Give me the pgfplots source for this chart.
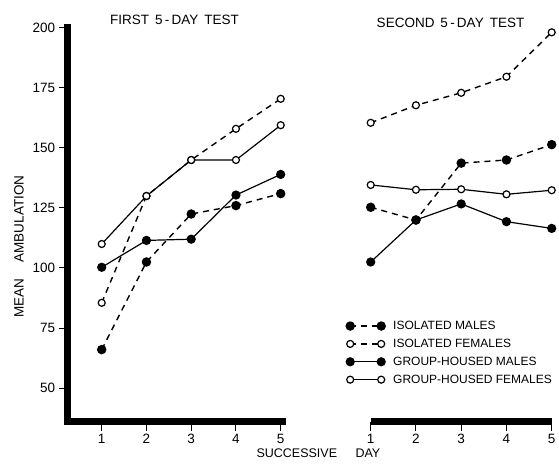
\documentclass[border=0pt]{standalone}
\usepackage{fontspec}
\setmainfont{Liberation Sans}
\usepackage{pgfplots}
\pgfplotsset{compat=1.18}
\newcommand{\lf}{\fontsize{13.5}{15}\selectfont}
\begin{document}
\begin{tikzpicture}[x=1pt,y=1pt]
\useasboundingbox (0,0) rectangle (559,463);
\pgfplotsset{
 myax/.style={scale only axis, height=393.6pt, ymin=36, ymax=200, clip=false,
   tick align=outside, major tick length=9pt,
   every tick/.style={black, line width=1pt},
   /pgf/number format/assume math mode=true,
   tick label style={font=\lf},
   xtick={1,2,3,4,5}},
 im/.style={black, line width=1.4pt, dash pattern=on 6pt off 5pt, mark=*, mark size=4pt, mark options={solid, fill=black}},
 ifm/.style={black, line width=1.4pt, dash pattern=on 6pt off 5pt, mark=*, mark size=3.5pt, mark options={solid, fill=white, line width=1.2pt}},
 gm/.style={black, line width=1.2pt, mark=*, mark size=4pt, mark options={fill=black}},
 gf/.style={black, line width=1.2pt, mark=*, mark size=3.5pt, mark options={fill=white, line width=1.2pt}},
}
\begin{axis}[myax, at={(67.7pt,41.4pt)}, anchor=south west, width=214.8pt,
  xmin=0.24, xmax=5.04, axis x line*=bottom, axis y line*=left,
  axis line style={line width=7pt, line cap=rect, -},
  ytick={50,75,100,125,150,175,200}]
\addplot[im] coordinates {(1,66)(2,102.5)(3,122.5)(4,126)(5,131)};
\addplot[gm] coordinates {(1,100.3)(2,111.5)(3,112)(4,130.4)(5,139)};
\addplot[ifm] coordinates {(1,85.5)(2,130)(3,145)(4,158)(5,170.5)};
\addplot[gf] coordinates {(1,110)(2,130)(3,145)(4,145)(5,159.5)};
\end{axis}
\begin{axis}[myax, at={(370.7pt,41.4pt)}, anchor=south west, width=181pt,
  xmin=1, xmax=5, axis x line*=bottom, axis y line=none,
  axis line style={line width=7pt, line cap=butt, -},
  ytick=\empty,
  legend style={at={(-0.153,0.266)}, anchor=north west, draw=none, fill=none,
    font=\fontsize{12}{14}\selectfont, row sep=4pt,
    /tikz/every odd column/.append style={column sep=6pt}},
  legend cell align=left,
  legend image code/.code={\draw[#1] plot coordinates {(0pt,0pt) (31pt,0pt)};}]
\addplot[im] coordinates {(1,125.3)(2,120)(3,143.7)(4,145)(5,151.4)};
\addlegendentry{ISOLATED MALES}
\addplot[ifm] coordinates {(1,160.5)(2,167.8)(3,173)(4,179.7)(5,198.2)};
\addlegendentry{ISOLATED FEMALES}
\addplot[gm] coordinates {(1,102.5)(2,120)(3,126.7)(4,119.3)(5,116.5)};
\addlegendentry{GROUP-HOUSED MALES}
\addplot[gf] coordinates {(1,134.6)(2,132.6)(3,132.8)(4,130.7)(5,132.4)};
\addlegendentry{GROUP-HOUSED FEMALES}
\end{axis}
\node[font=\lf] at (174.5,443) {FIRST\hspace{6pt}5\,-\,DAY\hspace{6pt}TEST};
\node[font=\lf] at (450.5,440.5) {SECOND\hspace{6pt}5\,-\,DAY\hspace{6pt}TEST};
\node[font=\lf, rotate=90] at (19,216.5) {MEAN\hspace{16pt}AMBULATION};
\node[font=\fontsize{12.5}{14}\selectfont, anchor=west] at (253,9.5) {SUCCESSIVE};
\node[font=\fontsize{12.5}{14}\selectfont, anchor=west] at (352,9.5) {DAY};
\end{tikzpicture}
\end{document}
